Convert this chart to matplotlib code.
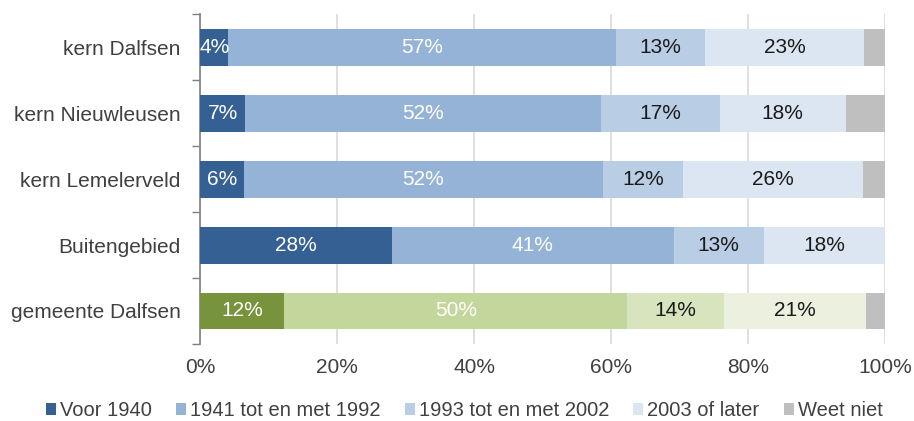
import matplotlib.pyplot as plt
import numpy as np

plt.rcParams['font.family'] = ['Liberation Sans', 'DejaVu Sans']

areas = ['kern Dalfsen', 'kern Nieuwleusen', 'kern Lemelerveld', 'Buitengebied', 'gemeente Dalfsen']
periods = ['Voor 1940', '1941 tot en met 1992', '1993 tot en met 2002', '2003 of later', 'Weet niet']

voor_1940 = [4.1, 6.6, 6.4, 28.0, 12.3]
tot_1992 = [56.7, 51.9, 52.4, 41.2, 50.1]
tot_2002 = [12.9, 17.4, 11.7, 13.1, 14.1]
vanaf_2003 = [23.3, 18.4, 26.3, 17.7, 20.7]
weet_niet = [3.0, 5.7, 3.2, 0.0, 2.8]

blues = ['#346094', '#95B3D7', '#B9CDE5', '#DCE6F2', '#BFBFBF']
greens = ['#77933C', '#C3D69B', '#D7E4BD', '#EBF1DE', '#BFBFBF']
label_colors = ['white', 'white', '#1a1a1a', '#1a1a1a', None]

series = [voor_1940, tot_1992, tot_2002, vanaf_2003, weet_niet]

fig, ax = plt.subplots(figsize=(9.14, 4.21), dpi=100)
fig.subplots_adjust(left=0.219, right=0.968, top=0.966, bottom=0.183)

y = np.arange(len(areas))[::-1]
left = np.zeros(len(areas))
for k, vals in enumerate(series):
    vals = np.array(vals)
    cols = [greens[k] if a == 'gemeente Dalfsen' else blues[k] for a in areas]
    ax.barh(y, vals, left=left, height=0.56, color=cols, label=periods[k], zorder=3)
    if label_colors[k]:
        for yi, l, v in zip(y, left, vals):
            ax.text(l + v / 2, yi, f'{v:.0f}%', ha='center', va='center',
                    fontsize=15, color=label_colors[k], zorder=4)
    left += vals

ax.set_xlim(0, 100)
ax.set_ylim(-0.5, len(areas) - 0.5)
ax.set_xticks(np.arange(0, 101, 20))
ax.set_xticklabels([f'{t}%' for t in range(0, 101, 20)])
ax.set_yticks(y)
ax.set_yticklabels(areas)
ax.set_yticks(np.arange(-0.5, len(areas), 1), minor=True)
ax.tick_params(axis='y', which='major', length=0, pad=14, labelsize=15, labelcolor='#404040')
ax.tick_params(axis='y', which='minor', length=6, color='#808080', width=1)
ax.tick_params(axis='x', length=0, pad=10, labelsize=15, labelcolor='#404040')
ax.grid(axis='x', color='#d9d9d9', linewidth=1.2, zorder=0)
for s in ['top', 'right', 'bottom']:
    ax.spines[s].set_visible(False)
ax.spines['left'].set_color('#808080')
ax.spines['left'].set_linewidth(1.2)

handles, labels = ax.get_legend_handles_labels()
leg = fig.legend(handles, labels, loc='center', bbox_to_anchor=(0.508, 0.025), ncol=5,
                 frameon=False, fontsize=14.5, handlelength=0.5, handleheight=0.5,
                 handletextpad=0.2, columnspacing=1.2, labelcolor='#404040',
                 borderpad=0.0)
for h, c in zip(leg.legend_handles, blues):
    h.set_facecolor(c)

fig.savefig('out.png', dpi=100)
